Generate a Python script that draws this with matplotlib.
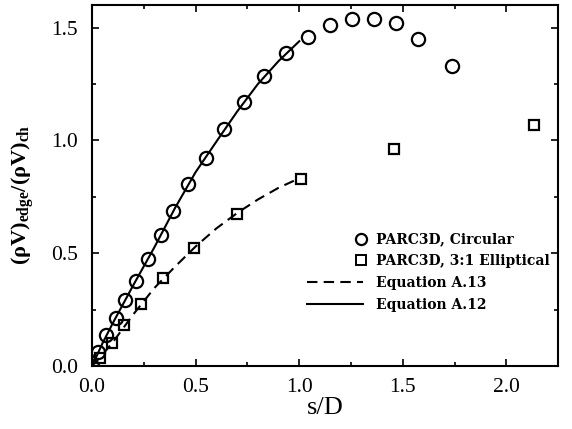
import matplotlib
matplotlib.use("Agg")
import matplotlib.pyplot as plt
from matplotlib.lines import Line2D
from matplotlib.legend_handler import HandlerLine2D
from matplotlib.ticker import MultipleLocator, FormatStrFormatter

plt.rcParams['font.family'] = ['Liberation Serif', 'DejaVu Serif']
plt.rcParams['mathtext.fontset'] = 'custom'
plt.rcParams['mathtext.rm'] = 'Liberation Serif'
plt.rcParams['mathtext.bf'] = 'Liberation Serif:bold'

# PARC3D, circular
circ_s = [0.0, 0.029, 0.068, 0.116, 0.159, 0.213, 0.271, 0.333, 0.391, 0.464, 0.551,
          0.638, 0.734, 0.831, 0.937, 1.043, 1.150, 1.256, 1.362, 1.469, 1.575, 1.739]
circ_v = [0.0, 0.062, 0.138, 0.213, 0.293, 0.378, 0.476, 0.582, 0.689, 0.809, 0.924,
          1.049, 1.169, 1.284, 1.387, 1.458, 1.511, 1.538, 1.538, 1.520, 1.449, 1.329]

# PARC3D, 3:1 elliptical
ell_s = [0.036, 0.095, 0.155, 0.237, 0.343, 0.493, 0.700, 1.010, 1.459, 2.135]
ell_v = [0.034, 0.100, 0.180, 0.274, 0.391, 0.524, 0.676, 0.831, 0.960, 1.067]

# Equation A.12 / A.13 curves
eq_s = [0.0, 0.05, 0.1, 0.2, 0.3, 0.4, 0.5, 0.6, 0.7, 0.8, 0.9, 1.0]
eq_a12 = [0.0, 0.10, 0.19, 0.36, 0.525, 0.70, 0.86, 0.995, 1.128, 1.250, 1.352, 1.440]
eq_a13 = [0.0, 0.05, 0.105, 0.23, 0.345, 0.44, 0.53, 0.61, 0.678, 0.738, 0.79, 0.832]


class RightMarkerHandler(HandlerLine2D):
    # single marker sitting at the right end of the handle
    def get_numpoints(self, legend):
        return 2

    def get_xdata(self, legend, xdescent, ydescent, width, height, fontsize):
        x = -xdescent + width - 0.1 * fontsize
        return [x], [x]


fig = plt.figure(figsize=(5.72, 4.29), dpi=100)
ax = fig.add_axes([0.161, 0.147, 0.815, 0.841])

ax.plot(eq_s, eq_a12, color='black', lw=1.5)
ax.plot(eq_s, eq_a13, color='black', lw=1.5, linestyle=(0, (5, 3)))
ax.plot(circ_s, circ_v, linestyle='none', marker='o', ms=9.5, mfc='none',
        mec='black', mew=1.6)
ax.plot(ell_s, ell_v, linestyle='none', marker='s', ms=7, mfc='none',
        mec='black', mew=1.6)

ax.set_xlim(0, 2.25)
ax.set_ylim(0, 1.6)
ax.xaxis.set_major_locator(MultipleLocator(0.5))
ax.xaxis.set_minor_locator(MultipleLocator(0.25))
ax.yaxis.set_major_locator(MultipleLocator(0.5))
ax.yaxis.set_minor_locator(MultipleLocator(0.25))
ax.tick_params(which='both', direction='in', top=True, right=True, width=1.2)
ax.tick_params(which='major', length=5, labelsize=15.5)
ax.tick_params(which='minor', length=3)
ax.tick_params(axis='x', which='major', pad=9)
ax.tick_params(axis='y', which='major', pad=10)
ax.xaxis.set_major_formatter(FormatStrFormatter('%.1f'))
ax.yaxis.set_major_formatter(FormatStrFormatter('%.1f'))
for sp in ax.spines.values():
    sp.set_linewidth(1.5)

ax.set_xlabel('s/D', fontsize=19)
ax.set_ylabel('(ρV)$_{\\mathbf{edge}}$/(ρV)$_{\\mathbf{ch}}$', fontsize=16,
              fontweight='bold')
ax.xaxis.set_label_coords(0.5, -0.087)
ax.yaxis.set_label_coords(-0.118, 0.474)

circ_h = Line2D([], [], linestyle='none', marker='o', ms=8, mfc='none', mec='black', mew=1.6)
ell_h = Line2D([], [], linestyle='none', marker='s', ms=6.5, mfc='none', mec='black', mew=1.4)
a13_h = Line2D([], [], color='black', lw=1.5, linestyle=(0, (5, 3)))
a12_h = Line2D([], [], color='black', lw=1.5)
labels = ['PARC3D, Circular', 'PARC3D, 3:1 Elliptical', 'Equation A.13', 'Equation A.12']
ax.legend([circ_h, ell_h, a13_h, a12_h], labels, loc='upper left',
          bbox_to_anchor=(0.461, 0.37), frameon=False, borderpad=0,
          borderaxespad=0, handlelength=4.0, handletextpad=0.95,
          labelspacing=0.56,
          prop={'family': 'DejaVu Serif', 'weight': 'bold', 'size': 10},
          handler_map={circ_h: RightMarkerHandler(), ell_h: RightMarkerHandler()})

fig.savefig('out.png', dpi=100)
